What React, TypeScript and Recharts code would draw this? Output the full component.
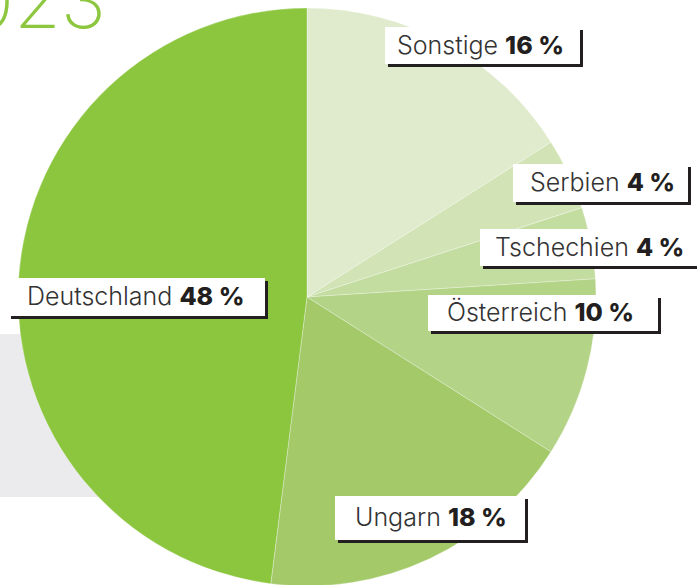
import { PieChart, Pie, Cell } from 'recharts';

const countries = ['Sonstige', 'Serbien', 'Tschechien', 'Österreich', 'Ungarn', 'Deutschland'];
const shares = [16, 4, 4, 10, 18, 48];
const sliceColors = ['#dfebcc', '#d2e4b6', '#c3dca0', '#b3d386', '#a3c969', '#8cc63f'];

const data = countries.map((name, i) => ({ name, value: shares[i] }));

// label boxes: top-left corner, width, height, text inset
const BOXES: Record<string, { x: number; y: number; w: number; h: number; pad: number }> = {
  Sonstige: { x: 385, y: 27, w: 195, h: 37, pad: 12 },
  Serbien: { x: 513, y: 164, w: 175, h: 38, pad: 17 },
  Tschechien: { x: 480, y: 229, w: 230, h: 37, pad: 15 },
  'Österreich': { x: 428, y: 295, w: 230, h: 36, pad: 19 },
  Ungarn: { x: 335, y: 496, w: 190, h: 44, pad: 20 },
  Deutschland: { x: 8, y: 278, w: 257, h: 38, pad: 19 },
};

const FONT = 'Inter, "Noto Sans", sans-serif';

function BoxLabel(props: any) {
  const b = BOXES[props.name];
  if (!b) return null;
  const base = b.y + b.h / 2 + 8;
  return (
    <g>
      <rect x={b.x + 3} y={b.y + 3} width={b.w} height={b.h} fill="#231f20" />
      <rect x={b.x} y={b.y} width={b.w} height={b.h} fill="#ffffff" />
      <text x={b.x + b.pad} y={base} fontFamily={FONT} fontSize={25} fill="#333">
        <tspan fontWeight={300}>{props.name} </tspan>
        <tspan fontWeight={800} fill="#231f20">{props.value} %</tspan>
      </text>
    </g>
  );
}

export default function App() {
  return (
    <div style={{ position: 'absolute', left: 0, top: 0, width: 697, height: 585, overflow: 'hidden', background: '#fff' }}>
      <div style={{ position: 'absolute', left: 0, top: 334, width: 420, height: 163, background: '#ebebed' }} />
      <div
        style={{
          position: 'absolute',
          right: 697 - 106,
          top: -38,
          fontFamily: FONT,
          fontWeight: 200,
          fontSize: 76,
          color: '#8dc63f',
          lineHeight: '76px',
          whiteSpace: 'nowrap',
        }}
      >
        2023
      </div>
      <div style={{ position: 'absolute', left: 0, top: 0 }}>
        <PieChart width={697} height={585} margin={{ top: 0, right: 0, bottom: 0, left: 0 }}>
          <Pie
            data={data}
            dataKey="value"
            nameKey="name"
            cx={307}
            cy={297}
            outerRadius={289}
            startAngle={90}
            endAngle={-270}
            stroke="rgba(255,255,255,0.6)"
            strokeWidth={0.5}
            label={BoxLabel}
            labelLine={false}
            isAnimationActive={false}
          >
            {data.map((d, i) => (
              <Cell key={d.name} fill={sliceColors[i]} />
            ))}
          </Pie>
        </PieChart>
      </div>
    </div>
  );
}
